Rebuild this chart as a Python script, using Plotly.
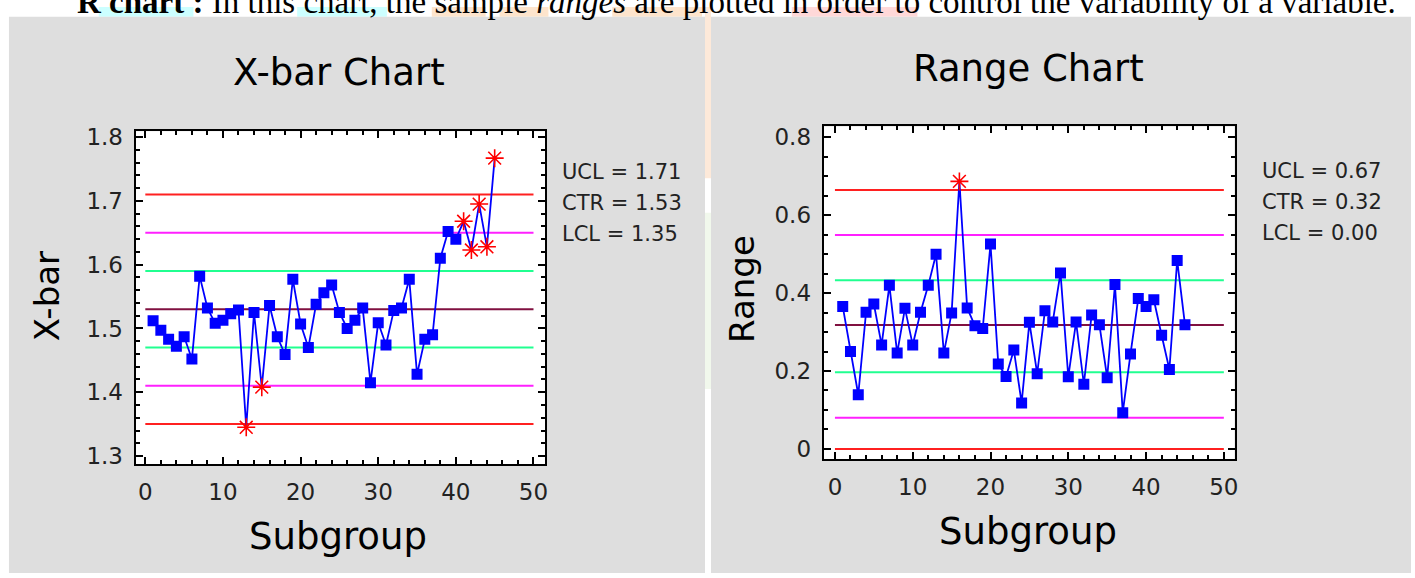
import plotly.graph_objects as go

W, H = 1415, 578

# ---------------- data ----------------
subgroups = list(range(1, 46))
xbar = [1.512, 1.497, 1.483, 1.472, 1.487, 1.452, 1.582, 1.532, 1.508, 1.513,
        1.523, 1.529, 1.345, 1.525, 1.408, 1.536, 1.487, 1.459, 1.577, 1.507,
        1.470, 1.538, 1.556, 1.568, 1.525, 1.500, 1.513, 1.532, 1.415, 1.509,
        1.474, 1.528, 1.532, 1.577, 1.428, 1.483, 1.490, 1.610, 1.652, 1.640,
        1.668, 1.623, 1.695, 1.628, 1.767]
ranges = [0.366, 0.250, 0.139, 0.351, 0.372, 0.267, 0.420, 0.246, 0.361, 0.267,
          0.351, 0.420, 0.500, 0.246, 0.349, 0.687, 0.362, 0.316, 0.309, 0.526,
          0.218, 0.186, 0.254, 0.118, 0.325, 0.193, 0.355, 0.326, 0.452, 0.185,
          0.326, 0.166, 0.344, 0.319, 0.183, 0.422, 0.093, 0.244, 0.386, 0.366,
          0.383, 0.292, 0.204, 0.484, 0.319]
xbar_flagged = [13, 15, 41, 42, 43, 44, 45]
range_flagged = [16]

# control lines: UCL, +2s, +1s, CTR, -1s, -2s, LCL
xbar_lines = [1.71, 1.65, 1.59, 1.53, 1.47, 1.41, 1.35]
range_lines = [0.665, 0.549, 0.433, 0.318, 0.197, 0.080, 0.0]
line_colors = ["#ff2020", "#ff20ff", "#20ff90", "#801040", "#20ff90", "#ff20ff", "#ff2020"]
xbar_labels = ["UCL = 1.71", "CTR = 1.53", "LCL = 1.35"]
range_labels = ["UCL = 0.67", "CTR = 0.32", "LCL = 0.00"]
line_span = [0, 50]

FONT = "DejaVu Sans"

fig = go.Figure()


def add_chart(values, flagged, lines, xa, ya):
    for v, c in zip(lines, line_colors):
        fig.add_trace(go.Scatter(x=line_span, y=[v, v], mode="lines",
                                 line=dict(color=c, width=2), xaxis=xa, yaxis=ya,
                                 hoverinfo="skip", showlegend=False))
    fig.add_trace(go.Scatter(x=subgroups, y=values, mode="lines",
                             line=dict(color="#0000ff", width=1.8), xaxis=xa, yaxis=ya,
                             showlegend=False))
    nx = [s for s in subgroups if s not in flagged]
    ny = [values[s - 1] for s in nx]
    fig.add_trace(go.Scatter(x=nx, y=ny, mode="markers",
                             marker=dict(symbol="square", size=11, color="#0000ff",
                                         line=dict(width=0)),
                             xaxis=xa, yaxis=ya, showlegend=False))
    fx = list(flagged)
    fy = [values[s - 1] for s in fx]
    fig.add_trace(go.Scatter(x=fx, y=fy, mode="markers",
                             marker=dict(symbol="asterisk-open", size=15, color="#ff0000",
                                         line=dict(width=1.6, color="#ff0000")),
                             xaxis=xa, yaxis=ya, showlegend=False))


add_chart(xbar, xbar_flagged, xbar_lines, "x", "y")
add_chart(ranges, range_flagged, range_lines, "x2", "y2")


def px(x):
    return x / W


def py(y):
    return 1 - y / H


axis_common = dict(showline=True, linewidth=2, linecolor="black", mirror="ticks",
                   ticks="inside", ticklen=7, tickwidth=1.5, tickcolor="black",
                   showgrid=False, zeroline=False,
                   tickfont=dict(family=FONT, size=23, color="#222"))

fig.update_layout(
    width=W, height=H, margin=dict(l=0, r=0, t=0, b=0),
    paper_bgcolor="white", plot_bgcolor="rgba(0,0,0,0)",
    xaxis=dict(domain=[px(136), px(547)], range=[-1.25, 51.54], tickvals=[0, 10, 20, 30, 40, 50],
               minor=dict(dtick=2, tick0=0, ticks="inside", ticklen=4, tickcolor="black"),
               ticklabelstandoff=6, anchor="y", **axis_common),
    yaxis=dict(domain=[py(467), py(127)], range=[1.287, 1.809],
               tickvals=[1.3, 1.4, 1.5, 1.6, 1.7, 1.8], ticktext=["1.3", "1.4", "1.5", "1.6", "1.7", "1.8"],
               minor=dict(dtick=0.02, tick0=1.3, ticks="inside", ticklen=4, tickcolor="black"),
               ticklabelstandoff=6, anchor="x", **axis_common),
    xaxis2=dict(domain=[px(826), px(1238)], range=[-1.45, 51.37], tickvals=[0, 10, 20, 30, 40, 50],
                minor=dict(dtick=2, tick0=0, ticks="inside", ticklen=4, tickcolor="black"),
                ticklabelstandoff=6, anchor="y2", **axis_common),
    yaxis2=dict(domain=[py(462), py(122)], range=[-0.027, 0.828],
                tickvals=[0, 0.2, 0.4, 0.6, 0.8], ticktext=["0", "0.2", "0.4", "0.6", "0.8"],
                minor=dict(dtick=0.05, tick0=0, ticks="inside", ticklen=4, tickcolor="black"),
                ticklabelstandoff=6, anchor="x2", **axis_common),
)

shapes = []
# highlight blobs behind the cut-off sentence at the top
for x0, x1, c in [(99, 194, "#ccffff"), (298, 388, "#ccffff"), (433, 487, "#fde4cc"),
                  (501, 550, "#fde4cc"), (614, 704, "#fde4cc"), (794, 920, "#ffd8d8")]:
    shapes.append(dict(type="rect", xref="paper", yref="paper", x0=px(x0), x1=px(x1),
                       y0=py(10), y1=py(0), fillcolor=c, line=dict(width=0), layer="below"))
# thin stripes between panels
shapes.append(dict(type="rect", xref="paper", yref="paper", x0=px(707), x1=px(713),
                   y0=py(175), y1=py(0), fillcolor="#fde9d9", line=dict(width=0), layer="below"))
shapes.append(dict(type="rect", xref="paper", yref="paper", x0=px(707), x1=px(713),
                   y0=py(390), y1=py(210), fillcolor="#f1f8ec", line=dict(width=0), layer="below"))
# grey panels
for x0, x1 in [(9, 707), (713, W)]:
    shapes.append(dict(type="rect", xref="paper", yref="paper", x0=px(x0), x1=px(x1),
                       y0=0, y1=py(10), fillcolor="#dedede", line=dict(width=0), layer="below"))
# white plot areas
for xr, yr in [("x domain", "y domain"), ("x2 domain", "y2 domain")]:
    shapes.append(dict(type="rect", xref=xr, yref=yr, x0=0, x1=1, y0=0, y1=1,
                       fillcolor="white", line=dict(width=0), layer="below"))
fig.update_layout(shapes=shapes)

ann = []


def text(x, y, s, size, anchor="center", angle=0, family=FONT, color="black"):
    ann.append(dict(x=px(x), y=py(y), xref="paper", yref="paper", text=s, showarrow=False,
                    xanchor=anchor, yanchor="middle", textangle=angle,
                    font=dict(family=family, size=size, color=color)))


text(339.5, 67, "X-bar Chart", 37)
text(1031.7, 63, "Range Chart", 37)
text(339, 541, "Subgroup", 37)
text(1031, 536, "Subgroup", 37)
text(47.5, 295, "X-bar", 34, angle=-90)
text(744, 288, "Range", 34, angle=-90)
for s, y in zip(xbar_labels, [169, 200.5, 232]):
    text(561.7, y, s, 21, anchor="left", color="#222")
for s, y in zip(range_labels, [167, 199, 230.3]):
    text(1264, y, s, 21, anchor="left", color="#222")
# cut-off sentence at the very top of the page
text(739, -5, "<b>R chart :</b> In this chart, the sample <i>ranges</i> are plotted in order to control the variability of a variable.",
     33, family="Liberation Serif")
fig.update_layout(annotations=ann)

fig.write_html("out.html", config={"displayModeBar": False},
               post_script="document.body.style.margin='0';document.body.style.overflow='hidden';")
